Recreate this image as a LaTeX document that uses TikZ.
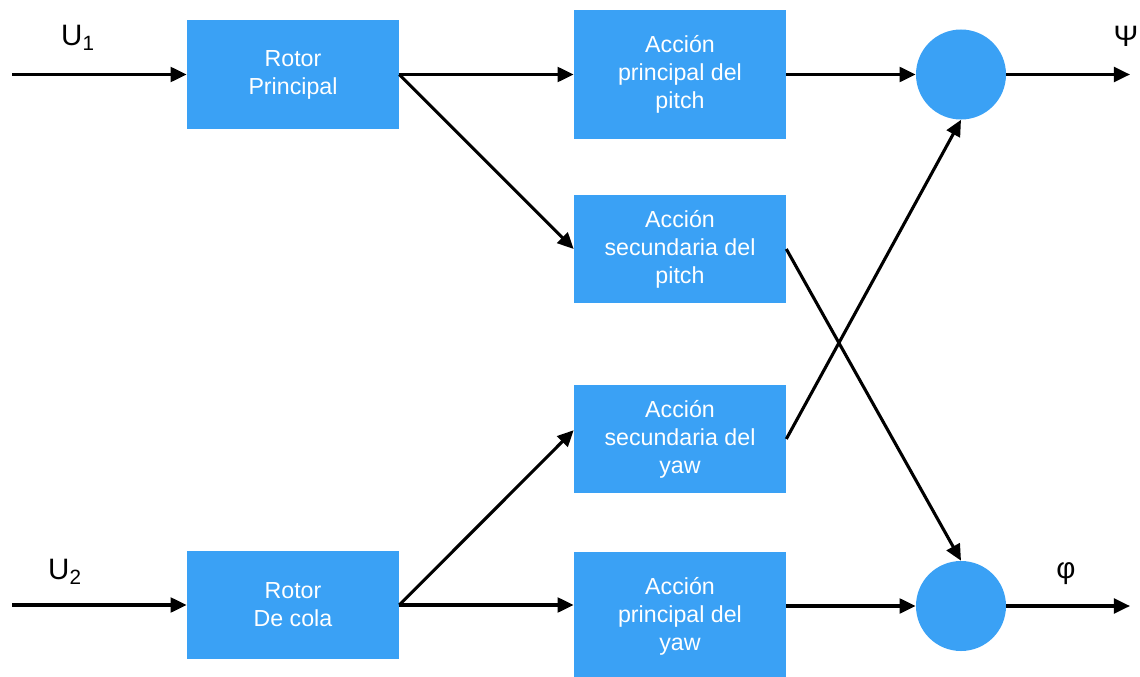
\documentclass[tikz,border=0pt]{standalone}
\usepackage{fontspec}
\setmainfont{Liberation Sans}
\usetikzlibrary{arrows.meta}
\definecolor{azulbloque}{HTML}{3AA1F5}

\tikzset{
    bloque/.style={fill=azulbloque, text=white, minimum width=5.3cm, minimum height=2.7cm, inner sep=0pt, align=center, font=\fontsize{16.5}{20}\selectfont},
    suma/.style={circle, fill=azulbloque, minimum size=2.25cm, inner sep=0pt},
    flecha/.style={-{Triangle[length=11.5pt, width=10.5pt]}, line width=2.2pt},
    etiqueta/.style={font=\fontsize{21}{24}\selectfont}
}

\begin{document}
\begin{tikzpicture}[x=0.025cm, y=-0.025cm]
    \useasboundingbox (0,0) rectangle (1140,677);

    % bloques
    \node[bloque] (rotorP) at (293,74.5) {Rotor\\Principal};
    \node[bloque] (rotorC) at (293,605) {Rotor\\De cola};
    \node[bloque, minimum height=3.2cm] (pitchP) at (680,74.5) {Acción\\principal del\\pitch};
    \node[bloque] (pitchS) at (680,249) {Acción\\secundaria del\\pitch};
    \node[bloque] (yawS) at (680,439) {Acción\\secundaria del\\yaw};
    \node[bloque, minimum height=3.2cm] (yawP) at (680,616) {Acción\\principal del\\yaw};

    % sumadores
    \node[suma] (sumaPsi) at (961,74.5) {};
    \node[suma] (sumaPhi) at (961,606) {};

    % entradas y salidas
    \coordinate (in1) at (12,74.5);
    \coordinate (in2) at (12,605);
    \coordinate (outPsi) at (1130,74.5);
    \coordinate (outPhi) at (1130,606);

    \node[etiqueta] (u1) at (78,38) {U\textsubscript{1}};
    \node[etiqueta] (u2) at (65,572) {U\textsubscript{2}};
    \node[etiqueta] (psi) at (1126,36) {Ψ};
    \node[etiqueta] (phi) at (1066,574) {φ};

    % conexiones
    \draw[flecha] (in1) -- (rotorP.west);
    \draw[flecha] (in2) -- (rotorC.west);
    \draw[flecha] (rotorP.east) -- (pitchP.west);
    \draw[flecha] (rotorP.east) -- (pitchS.west);
    \draw[flecha] (rotorC.east) -- ([yshift=0.22cm]yawS.west);
    \draw[flecha] (rotorC.east) -- (rotorC.east -| yawP.west);
    \draw[flecha] (pitchP.east) -- (sumaPsi.west);
    \draw[flecha] (sumaPhi -| yawP.east) -- (sumaPhi.west);
    \draw[flecha] (pitchS.east) -- (sumaPhi.north);
    \draw[flecha] (yawS.east) -- (sumaPsi.south);
    \draw[flecha] (sumaPsi.east) -- (outPsi);
    \draw[flecha] (sumaPhi.east) -- (outPhi);
\end{tikzpicture}
\end{document}
